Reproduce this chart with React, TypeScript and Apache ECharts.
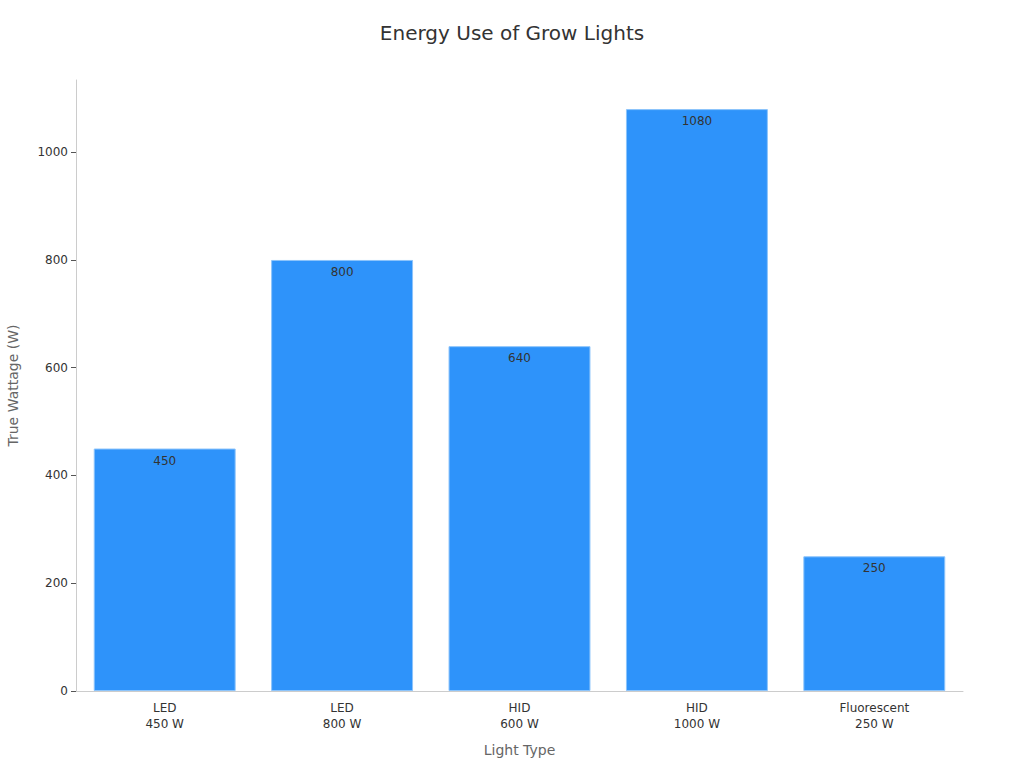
import React, { useEffect, useRef } from 'react';
import * as echarts from 'echarts';

const categories = ['LED\n450 W', 'LED\n800 W', 'HID\n600 W', 'HID\n1000 W', 'Fluorescent\n250 W'];
const trueWattage = [450, 800, 640, 1080, 250];

const FONT = "'DejaVu Sans', sans-serif";

const App = () => {
  const chartRef = useRef<HTMLDivElement>(null);

  useEffect(() => {
    document.body.style.margin = '0';
    const chart = echarts.init(chartRef.current, null, { renderer: 'svg' });

    const option = {
      animation: false,
      textStyle: { fontFamily: FONT },
      title: {
        text: 'Energy Use of Grow Lights',
        left: 'center',
        top: 18,
        textStyle: { fontSize: 20, fontWeight: 'normal', color: '#333', fontFamily: FONT },
      },
      grid: { left: 76, right: 61, top: 80, bottom: 77, outerBoundsMode: 'none' },
      xAxis: {
        type: 'category',
        data: categories,
        name: 'Light Type',
        nameLocation: 'middle',
        nameGap: 52,
        nameTextStyle: { fontSize: 14, color: '#666', fontFamily: FONT },
        axisLine: { lineStyle: { color: '#ccc' } },
        axisTick: { alignWithLabel: true, lineStyle: { color: '#555' } },
        axisLabel: { color: '#333', fontSize: 12, lineHeight: 16, margin: 9, fontFamily: FONT },
      },
      yAxis: {
        type: 'value',
        min: 0,
        max: 1134,
        interval: 200,
        name: 'True Wattage (W)',
        nameLocation: 'middle',
        nameGap: 56,
        nameTextStyle: { fontSize: 14, color: '#666', fontFamily: FONT },
        axisLine: { show: true, lineStyle: { color: '#ccc' } },
        axisTick: { show: true, lineStyle: { color: '#555' } },
        axisLabel: {
          color: '#333',
          fontSize: 12,
          fontFamily: FONT,
          showMaxLabel: false,
          formatter: (v: number) => String(v),
        },
        splitLine: { show: false },
      },
      series: [
        {
          type: 'bar',
          data: trueWattage,
          barCategoryGap: '20%',
          itemStyle: { color: '#2E93FA', borderColor: '#8CC4FB', borderWidth: 1 },
          label: {
            show: true,
            position: 'insideTop',
            distance: 6,
            color: '#333',
            fontSize: 12,
            fontFamily: FONT,
          },
        },
      ],
    };

    chart.setOption(option);

    return () => {
      chart.dispose();
    };
  }, []);

  return <div ref={chartRef} style={{ width: '1024px', height: '768px' }} />;
};

export default App;
